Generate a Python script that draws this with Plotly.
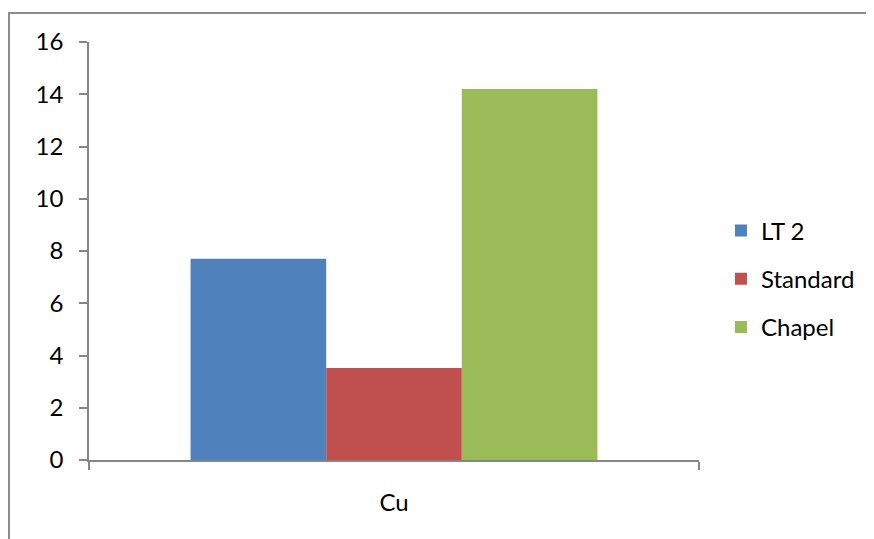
import plotly.graph_objects as go

categories = ["Cu"]
series_names = ["LT 2", "Standard", "Chapel"]
lt2_values = [7.7]
standard_values = [3.52]
chapel_values = [14.2]
y_ticks = [0, 2, 4, 6, 8, 10, 12, 14, 16]

colors = ["#4F81BD", "#C0504D", "#9BBB59"]
font_family = "Lato, 'Open Sans', sans-serif"

fig = go.Figure()
for name, vals, col in zip(series_names, [lt2_values, standard_values, chapel_values], colors):
    fig.add_trace(go.Bar(x=categories, y=vals, name=name, marker_color=col,
                         marker_line_width=0, legendgroup=name))

# page has an 8px body margin; size the figure so it fills the 874x539 window
W, H = 866, 531
L, R, T, B = 81, 175, 34, 79
pw, ph = W - L - R, H - T - B

# outer chart border (partly off-canvas as in reference)
fig.add_shape(type="rect", xref="paper", yref="paper",
              x0=(1 - L) / pw, x1=1.5, y0=-0.5, y1=(H - B - 5) / ph,
              line=dict(color="#8c8c8c", width=2), fillcolor="rgba(0,0,0,0)", layer="below")

fig.update_layout(
    width=W, height=H,
    margin=dict(l=L, r=R, t=T, b=B, pad=0),
    paper_bgcolor="white", plot_bgcolor="white",
    barmode="group", bargap=0.333, bargroupgap=0,
    font=dict(family=font_family, size=24, color="#000000"),
    showlegend=True,
    legend=dict(x=1.036, y=0.433, xanchor="left", yanchor="middle",
                font=dict(size=24), tracegroupgap=14, traceorder="grouped",
                bgcolor="rgba(0,0,0,0)"),
    xaxis=dict(type="category", tickson="boundaries", ticks="outside", ticklen=8,
               tickcolor="#868686", tickwidth=1.5, showline=True, linecolor="#868686",
               linewidth=1.5, showgrid=False, zeroline=False, ticklabelstandoff=20),
    yaxis=dict(range=[0, 16], tickvals=y_ticks, ticks="outside", ticklen=8,
               tickcolor="#868686", tickwidth=1.5, showline=True, linecolor="#868686",
               linewidth=1.5, showgrid=False, zeroline=False, ticklabelstandoff=11),
)

fig.write_html("out.html")
